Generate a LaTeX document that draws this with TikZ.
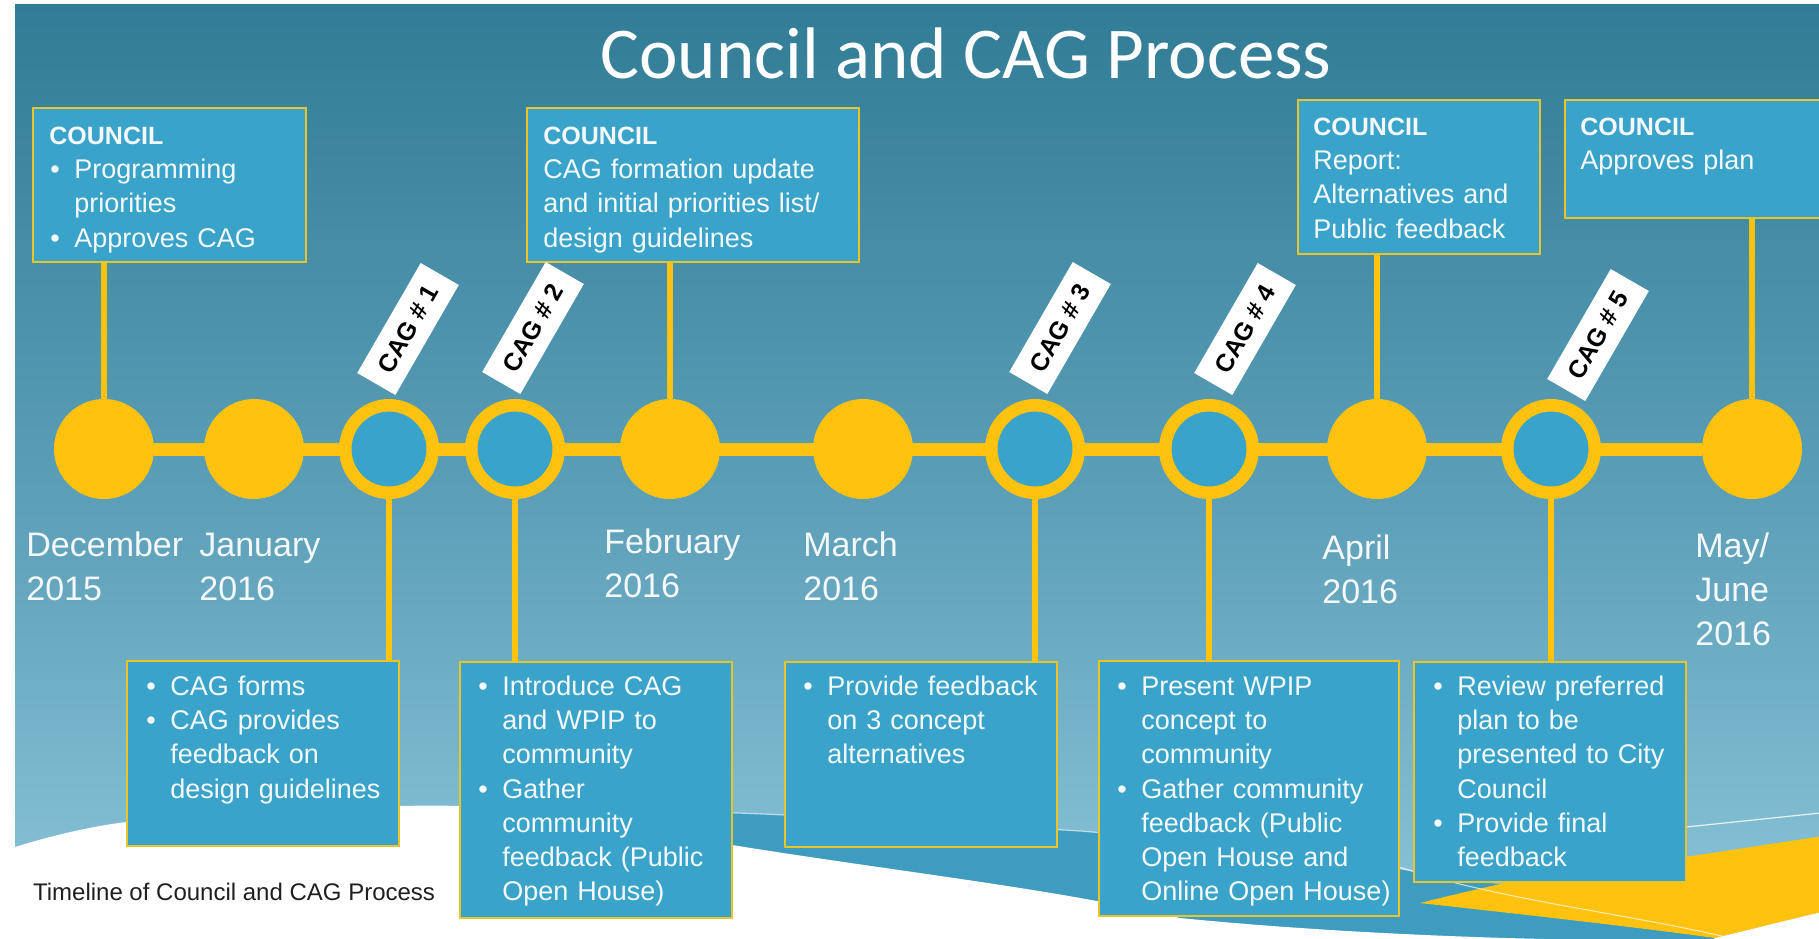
\documentclass[tikz,border=0pt]{standalone}
\usepackage{fontspec}
\setmainfont{Liberation Sans}
\newfontfamily\titlefont{Carlito}
\usetikzlibrary{fit}
\pgfdeclarelayer{bg}
\pgfdeclarelayer{mid}
\pgfsetlayers{bg,mid,main}
\definecolor{tyellow}{RGB}{255,194,14}
\definecolor{boxblue}{RGB}{58,163,201}
\definecolor{boxborder}{RGB}{236,196,40}
\definecolor{bandblue}{RGB}{62,156,192}
\definecolor{bgtop}{RGB}{49,124,150}
\definecolor{bgmid}{RGB}{90,157,182}
\definecolor{bgbot}{RGB}{140,199,219}
\definecolor{offwhite}{RGB}{244,248,250}
\newcommand{\bulx}{\makebox[12.5pt][l]{\hspace{0.5pt}\textbullet}}
\newcommand{\indx}{\hspace*{12.5pt}}
\newcommand{\cnl}{{\fontsize{12.5}{17.1}\selectfont\bfseries COUNCIL}}
\begin{document}
\begin{tikzpicture}[x=0.5pt,y=-0.5pt,
  box/.style={draw=boxborder, line width=1.2pt, fill=boxblue, inner sep=0pt},
  btxt/.style={anchor=north west, inner sep=0pt, text width=170pt, align=left,
    text=offwhite, font=\fontsize{13.5}{17.1}\selectfont,
    execute at begin node={\rule{0pt}{13pt}}},
  mtxt/.style={anchor=north west, inner sep=0pt, text width=120pt, align=left,
    text=offwhite, font=\fontsize{17}{22}\selectfont,
    execute at begin node={\rule{0pt}{16pt}}},
  cagtag/.style={fill=white, minimum width=63.5pt, minimum height=22pt, inner sep=0pt,
    font=\bfseries\fontsize{12.5}{14}\selectfont, text=black, rotate=60},
  mcirc/.style={circle, fill=tyellow, minimum size=50pt, inner sep=0pt},
  ccirc/.style={circle, fill=boxblue, draw=tyellow, line width=6.25pt, minimum size=43.75pt, inner sep=0pt},
  tline/.style={draw=tyellow, line width=6.5pt},
  conn/.style={draw=tyellow, line width=3pt}]
\useasboundingbox (0,0) rectangle (1819,938);
\clip (0,0) rectangle (1819,938);

% ---------- background ----------
\begin{pgfonlayer}{bg}
\fill[white] (-10,-10) rectangle (1830,950);
\shade[top color=bgtop, bottom color=bgbot, middle color=bgmid] (15,4) rectangle (1830,950);
% medium blue wave band
\fill[bandblue] (560,808) .. controls (650,810) and (720,812) .. (785,815)
  .. controls (900,820) and (1000,826) .. (1080,831)
  .. controls (1250,845) and (1350,860) .. (1420,872)
  .. controls (1600,900) and (1750,925) .. (1830,940) -- (1830,950) -- (560,950) -- cycle;
\draw[white, opacity=0.6, line width=0.6pt] (620,810) .. controls (680,811) and (720,812) .. (785,815)
  .. controls (900,820) and (1000,826) .. (1080,831)
  .. controls (1250,845) and (1350,860) .. (1420,872);
% yellow wave
\fill[tyellow] (1420,903) .. controls (1520,878) and (1600,862) .. (1685,857)
  -- (1830,835) -- (1830,910) -- (1715,938)
  .. controls (1620,925) and (1500,912) .. (1420,903) -- cycle;
\draw[white, opacity=0.7, line width=0.5pt] (1399,867) .. controls (1440,880) and (1480,890) .. (1560,905)
  .. controls (1620,916) and (1680,926) .. (1730,938);
\draw[white, opacity=0.8, line width=0.6pt] (1686,827) -- (1830,812);
% white wave
\fill[white] (15,847) .. controls (60,833) and (100,825) .. (127,822)
  .. controls (250,810) and (400,804) .. (460,806)
  .. controls (560,812) and (670,833) .. (732,845)
  .. controls (900,872) and (1050,888) .. (1180,918)
  .. controls (1300,930) and (1450,938) .. (1600,940) -- (1600,950) -- (-10,950) -- (-10,847) -- cycle;
\fill[white] (1715,938) -- (1830,910) -- (1830,950) -- (1700,950) -- cycle;
\end{pgfonlayer}

% ---------- title and caption ----------
\node[anchor=base, text=white, font=\titlefont\fontsize{36.5}{40}\selectfont] (title) at (966,78) {Council and CAG Process};
\node[anchor=base west, text=black!88, font=\fontsize{12}{14}\selectfont] (caption) at (26,900) {Timeline of Council and CAG Process};

% ---------- timeline circles ----------
\node[mcirc] (c1) at (104,449) {};
\node[mcirc] (c2) at (254,449) {};
\node[ccirc] (c3) at (389,449) {};
\node[ccirc] (c4) at (515,449) {};
\node[mcirc] (c5) at (670,449) {};
\node[mcirc] (c6) at (863,449) {};
\node[ccirc] (c7) at (1035,449) {};
\node[ccirc] (c8) at (1209,449) {};
\node[mcirc] (c9) at (1377,449) {};
\node[ccirc] (c10) at (1551,449) {};
\node[mcirc] (c11) at (1752,449) {};

% ---------- boxes ----------
\node[box, fit={(33,108) (306,262)}] (b1) {};
\node[box, fit={(527,108) (859,262)}] (b2) {};
\node[box, fit={(1298,100) (1540,254)}] (b3) {};
\node[box, fit={(1565,100) (1835,218)}] (b4) {};
\node[box, fit={(127,661) (399,846)}] (b5) {};
\node[box, fit={(460,662) (732,918)}] (b6) {};
\node[box, fit={(785,662) (1057,847)}] (b7) {};
\node[box, fit={(1099,661) (1399,916)}] (b8) {};
\node[box, fit={(1414,662) (1686,882)}] (b9) {};

% ---------- connectors ----------
\begin{pgfonlayer}{mid}
\draw[tline] (c1) -- (c11);
\draw[conn] (b1.south -| c1) -- (c1);
\draw[conn] (b2.south -| c5) -- (c5);
\draw[conn] (b3.south -| c9) -- (c9);
\draw[conn] (b4.south -| c11) -- (c11);
\draw[conn] (c3) -- (c3 |- b5.north);
\draw[conn] (c4) -- (c4 |- b6.north);
\draw[conn] (c7) -- (c7 |- b7.north);
\draw[conn] (c8) -- (c8 |- b8.north);
\draw[conn] (c10) -- (c10 |- b9.north);
\end{pgfonlayer}

% ---------- box texts ----------
\node[btxt] (t1) at (49,118) {\cnl\\ \bulx Programming\\ \indx priorities\\ \bulx Approves CAG};
\node[btxt] (t2) at (543,118) {\cnl\\ CAG formation update\\ and initial priorities list/\\ design guidelines};
\node[btxt] (t3) at (1313,109) {\cnl\\ Report:\\ Alternatives and\\ Public feedback};
\node[btxt] (t4) at (1580,109) {\cnl\\ Approves plan};
\node[btxt] (t5) at (145,669) {\bulx CAG forms\\ \bulx CAG provides\\ \indx feedback on\\ \indx design guidelines};
\node[btxt] (t6) at (477,669) {\bulx Introduce CAG\\ \indx and WPIP to\\ \indx community\\ \bulx Gather\\ \indx community\\ \indx feedback (Public\\ \indx Open House)};
\node[btxt] (t7) at (802,669) {\bulx Provide feedback\\ \indx on 3 concept\\ \indx alternatives};
\node[btxt] (t8) at (1116,669) {\bulx Present WPIP\\ \indx concept to\\ \indx community\\ \bulx Gather community\\ \indx feedback (Public\\ \indx Open House and\\ \indx Online Open House)};
\node[btxt] (t9) at (1432,669) {\bulx Review preferred\\ \indx plan to be\\ \indx presented to City\\ \indx Council\\ \bulx Provide final\\ \indx feedback};

% ---------- month labels ----------
\node[mtxt] (m1) at (26,524) {December\\2015};
\node[mtxt] (m2) at (199,524) {January\\2016};
\node[mtxt] (m3) at (604,521) {February\\2016};
\node[mtxt] (m4) at (803,524) {March\\2016};
\node[mtxt] (m5) at (1322,527) {April\\2016};
\node[mtxt] (m6) at (1695,525) {May/\\June\\2016};

% ---------- CAG tags ----------
\node[cagtag] (g1) at (408,329) {CAG \# 1};
\node[cagtag] (g2) at (533,328) {CAG \# 2};
\node[cagtag] (g3) at (1060,328) {CAG \# 3};
\node[cagtag] (g4) at (1245,329) {CAG \# 4};
\node[cagtag] (g5) at (1598,335) {CAG \# 5};
\end{tikzpicture}
\end{document}
